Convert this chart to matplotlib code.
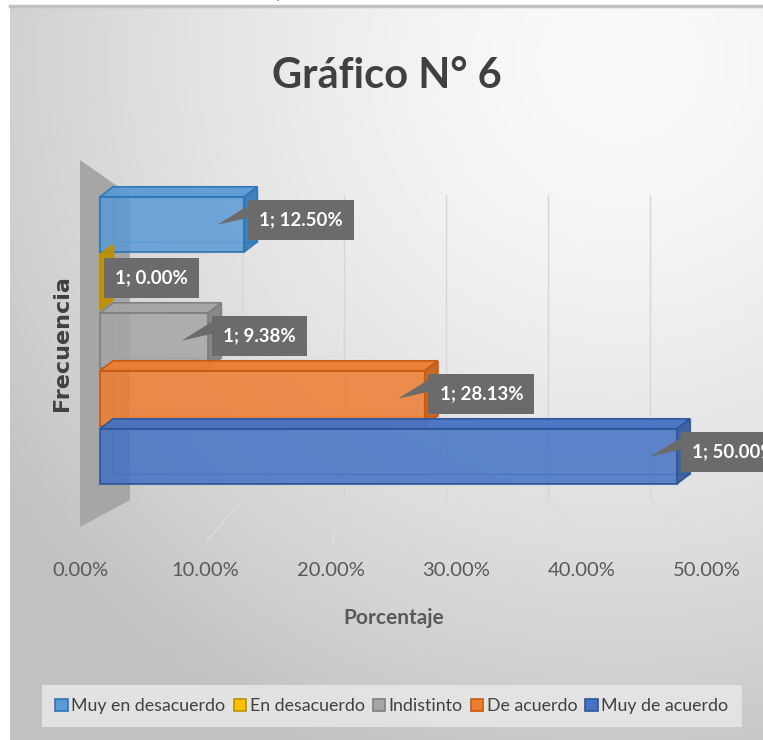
import numpy as np
import matplotlib.pyplot as plt
from matplotlib.patches import Polygon, Patch
from matplotlib.lines import Line2D
from matplotlib.ticker import PercentFormatter

# datos
categorias = ['Muy en desacuerdo', 'En desacuerdo', 'Indistinto', 'De acuerdo', 'Muy de acuerdo']
porcentajes = [12.50, 0.00, 9.38, 28.13, 50.00]
frecuencia = [1, 1, 1, 1, 1]
colores = ['#5b9bd5', '#ffc000', '#a5a5a5', '#ed7d31', '#4472c4']
bordes = ['#2e75b6', '#bf9000', '#7f7f7f', '#c55a11', '#2f5597']
ticks_x = [0, 10, 20, 30, 40, 50]

W, H = 763, 740
FAM = ['Lato', 'DejaVu Sans']

fig = plt.figure(figsize=(W / 100, H / 100), dpi=100)


def fx(px):
    return px / W


def fy(py):
    return 1 - py / H


# fondo con degradado
bg = fig.add_axes([fx(10), 0, fx(W - 10), 733 / H])
bg.set_zorder(-5)
yy, xx = np.mgrid[0:733, 0:753]
d = np.hypot(xx + 10 - 620, yy + 7 - 60)
t = np.clip(d / 760, 0, 1)
v = (251 - 58 * t ** 1.5) / 255
bg.imshow(np.dstack([v, v, v]), aspect='auto', interpolation='bilinear')
bg.axis('off')
fig.add_artist(Line2D([fx(10), 1], [fy(5.5), fy(5.5)], lw=2.5, color='#c0c0c0'))
fig.text(fx(2), fy(-2), 'Fuente: Cuestionario de la encuesta aplicada', fontsize=12,
         color='#8a8a8a', va='baseline', family=FAM)

# ejes principales (escala en pixeles de la barra frontal)
PX, X0, CY, DY = 11.54, 100, 220, 58


def dx(px):
    return (px - X0) / PX


def dyy(py):
    return (py - CY) / DY


ax = fig.add_axes([fx(60), fy(545), fx(680), 395 / H])
ax.patch.set_alpha(0)
ax.set_xlim(dx(60), dx(740))
ax.set_ylim(dyy(545), dyy(150))
ax.axis('off')

# pared lateral
pared = [(dx(80), dyy(160)), (dx(130), dyy(195)), (dx(130), dyy(500)), (dx(80), dyy(527))]
ax.add_patch(Polygon(pared, closed=True, fc='#a6a6a6', ec='none', zorder=1))

# cuadricula (pared del fondo y piso)
for tk in ticks_x[1:]:
    bx = 140 + 10.2 * tk
    frx = 80 + 12.6 * tk
    ax.plot([dx(bx), dx(bx)], [dyy(195), dyy(500)], color='#d6d6d6', lw=1, zorder=1)
    ax.plot([dx(bx), dx(frx)], [dyy(500), dyy(542)], color='#dcdcdc', lw=1, zorder=1)

# barras 3D
ddx, ddy = 13 / PX, 10 / DY
for i, (val, col, ec) in enumerate(zip(porcentajes, colores, bordes)):
    top, bot = i - 0.40, i + 0.55
    z = 3 + i
    ax.add_patch(Polygon([(ddx, top - ddy), (val + ddx, top - ddy), (val + ddx, bot - ddy), (ddx, bot - ddy)],
                         closed=True, fc='none', ec=ec, lw=1, alpha=0.6, zorder=z))
    ax.add_patch(Polygon([(0, top), (val, top), (val + ddx, top - ddy), (ddx, top - ddy)],
                         closed=True, fc=col, ec=ec, lw=1.2, alpha=0.95, zorder=z))
    ax.add_patch(Polygon([(val, top), (val + ddx, top - ddy), (val + ddx, bot - ddy), (val, bot)],
                         closed=True, fc=ec, ec=ec, lw=1.2, alpha=0.9, zorder=z))
    ax.barh(i + 0.075, val, height=0.95, left=0, color=col, alpha=0.85,
            edgecolor=ec, lw=1.5, zorder=z)

# etiquetas de datos
for i, (val, n) in enumerate(zip(porcentajes, frecuencia)):
    if val > 0:
        ax.add_patch(Polygon([(val - 2.3, i + 0.08), (val + 0.6, i - 0.28), (val + 0.6, i - 0.05)],
                             closed=True, fc='#6b6b6b', ec='none', zorder=20))
    ax.text(val + 1.3, i, f'{n}; {val:.2f}%', ha='left', va='center', color='white',
            fontsize=13.5, fontweight='bold', family=FAM, zorder=21,
            bbox=dict(boxstyle='square,pad=0.6', fc='#6b6b6b', ec='none'))

# eje de porcentajes
ax2 = fig.add_axes([fx(80), fy(558), fx(627), 0.0001])
ax2.patch.set_alpha(0)
ax2.set_xlim(0, 50)
ax2.set_xticks(ticks_x)
ax2.xaxis.set_major_formatter(PercentFormatter(decimals=2))
ax2.set_yticks([])
for s in ax2.spines.values():
    s.set_visible(False)
ax2.tick_params(axis='x', length=0, pad=3, labelsize=14.5, labelcolor='#595959')
for lb in ax2.get_xticklabels():
    lb.set_family(FAM)
ax2.set_xlabel('Porcentaje', fontsize=15, fontweight='bold', color='#595959',
               family=FAM, labelpad=21)

fig.text(fx(62), fy(343), 'Frecuencia', rotation=90, ha='center', va='center',
         fontsize=16, fontweight='bold', color='#404040', family='DejaVu Sans')

fig.text(fx(387), fy(76), 'Gráfico N° 6', ha='center', va='center', fontsize=30,
         fontweight='bold', color='#404040', family=FAM)

handles = [Patch(fc=c, ec=e, lw=1.2) for c, e in zip(colores, bordes)]
fig.legend(handles, categorias, loc='center', bbox_to_anchor=(fx(392), fy(706)), ncol=5,
           frameon=True, fancybox=False, facecolor='#e6e6e6', edgecolor='none', framealpha=0.9,
           prop={'family': FAM, 'size': 12.8}, labelcolor='#404040',
           handlelength=0.7, handleheight=0.7, handletextpad=0.2, columnspacing=0.45,
           borderpad=0.75)

fig.savefig('out.png', dpi=100)
